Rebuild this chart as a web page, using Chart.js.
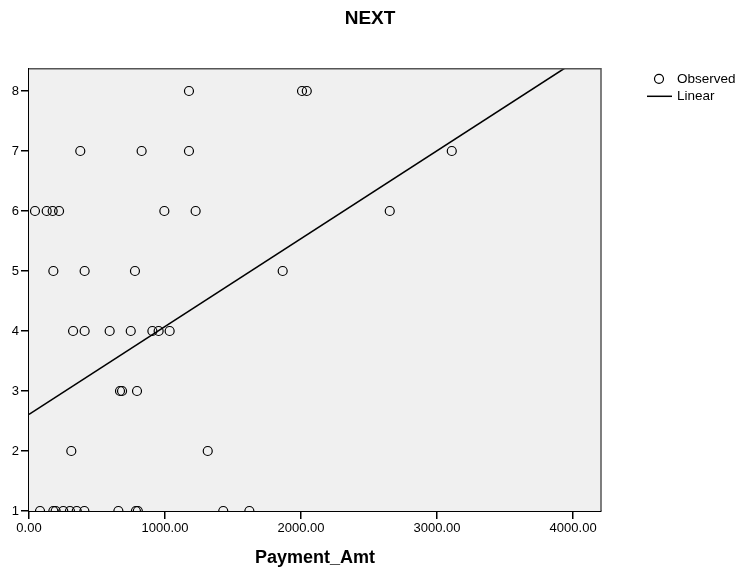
<!DOCTYPE html>
<html>
<head>
<meta charset="utf-8">
<title>NEXT</title>
<script src="https://cdn.jsdelivr.net/npm/chart.js@4.4.1/dist/chart.umd.min.js"></script>
<style>
  html, body { margin: 0; padding: 0; background: #fff; }
  #wrap { width: 740px; height: 571px; position: relative; }
</style>
</head>
<body>
<div id="wrap"><canvas id="chart"></canvas></div>
<script>
// Observed points, grouped by NEXT value
const paymentAmt = [
  1176, 2007, 2042,                          // NEXT = 8
  377, 828, 1176, 3108,                      // 7
  44, 130, 174, 221, 995, 1225, 2652,        // 6
  179, 409, 779, 1865,                       // 5
  324, 409, 593, 748, 907, 953, 1034,        // 4
  669, 684, 794,                             // 3
  311, 1314,                                 // 2
  81, 179, 196, 252, 301, 351, 407, 657, 786, 800, 1428, 1620, // 1
];
const nextValue = [
  8, 8, 8,
  7, 7, 7, 7,
  6, 6, 6, 6, 6, 6, 6,
  5, 5, 5, 5,
  4, 4, 4, 4, 4, 4, 4,
  3, 3, 3,
  2, 2,
  1, 1, 1, 1, 1, 1, 1, 1, 1, 1, 1, 1,
];

// Linear fit line
const fitIntercept = 2.61;
const fitSlope = 0.001465;

// Axes
const xMin = 0;
const xMax = 4205;
const xTicks = [0, 1000, 2000, 3000, 4000];
const yMin = 1;
const yMax = 8.37;
const yTicks = [1, 2, 3, 4, 5, 6, 7, 8];

const legendLabels = ['Observed', 'Linear'];

const FONT = '"Liberation Sans", Arial, Helvetica, sans-serif';

const observed = paymentAmt.map((x, i) => ({ x, y: nextValue[i] }));
const fitLine = [xMin, xMax].map((x) => ({ x, y: fitIntercept + fitSlope * x }));

// grey plot background + thin frame on top/right
const plotFrame = {
  id: 'plotFrame',
  beforeDatasetsDraw(chart) {
    const { ctx, chartArea: a } = chart;
    ctx.save();
    ctx.fillStyle = '#f0f0f0';
    ctx.fillRect(a.left, a.top, a.right - a.left, a.bottom - a.top);
    ctx.restore();
  },
  afterDraw(chart) {
    const { ctx, chartArea: a } = chart;
    ctx.save();
    ctx.strokeStyle = '#555';
    ctx.lineWidth = 1.5;
    ctx.beginPath();
    ctx.moveTo(a.left, a.top);
    ctx.lineTo(a.right, a.top);
    ctx.lineTo(a.right, a.bottom);
    ctx.stroke();
    ctx.restore();
  },
};

// SPSS style legend to the right of the plot
const sideLegend = {
  id: 'sideLegend',
  afterDraw(chart) {
    const { ctx, chartArea: a } = chart;
    const cx = a.right + 58;
    const tx = a.right + 76;
    const y1 = a.top + 10;
    const y2 = a.top + 27.5;
    ctx.save();
    ctx.strokeStyle = '#000';
    ctx.fillStyle = '#000';
    ctx.lineWidth = 1.2;
    ctx.beginPath();
    ctx.arc(cx, y1, 4.5, 0, Math.PI * 2);
    ctx.stroke();
    ctx.lineWidth = 1.5;
    ctx.beginPath();
    ctx.moveTo(cx - 12, y2);
    ctx.lineTo(cx + 13, y2);
    ctx.stroke();
    ctx.font = `13.5px ${FONT}`;
    ctx.textBaseline = 'middle';
    ctx.fillText(legendLabels[0], tx, y1);
    ctx.fillText(legendLabels[1], tx, y2);
    ctx.restore();
  },
};

Chart.defaults.font.family = FONT;
Chart.defaults.color = '#000';

const axisGrid = {
  drawOnChartArea: false,
  drawTicks: true,
  tickLength: 8,
  color: '#000',
  lineWidth: 1.5,
};

new Chart(document.getElementById('chart'), {
  type: 'scatter',
  data: {
    datasets: [
      {
        label: legendLabels[0],
        data: observed,
        pointStyle: 'circle',
        pointRadius: 4.5,
        pointHoverRadius: 4.5,
        borderWidth: 1.2,
        borderColor: '#000',
        backgroundColor: 'rgba(0,0,0,0)',
        clip: 0,
      },
      {
        label: legendLabels[1],
        data: fitLine,
        showLine: true,
        borderColor: '#000',
        borderWidth: 1.6,
        pointRadius: 0,
        clip: 0,
      },
    ],
  },
  options: {
    responsive: true,
    maintainAspectRatio: false,
    animation: false,
    devicePixelRatio: 1,
    layout: {
      padding: 0,
    },
    scales: {
      x: {
        type: 'linear',
        min: xMin,
        max: xMax,
        afterBuildTicks: (scale) => { scale.ticks = xTicks.map((value) => ({ value })); },
        afterFit: (scale) => { scale.height = 60; },
        grid: axisGrid,
        border: { display: true, color: '#000', width: 2 },
        ticks: {
          maxRotation: 0,
          autoSkip: false,
          padding: 2,
          font: { size: 13 },
          callback: (value) => value.toFixed(2),
        },
        title: {
          display: true,
          text: 'Payment_Amt',
          font: { size: 18, weight: 'bold' },
          padding: { top: 0, bottom: 2 },
        },
      },
      y: {
        type: 'linear',
        min: yMin,
        max: yMax,
        afterBuildTicks: (scale) => { scale.ticks = yTicks.map((value) => ({ value })); },
        afterFit: (scale) => { scale.width = 29; },
        grid: axisGrid,
        border: { display: true, color: '#000', width: 2 },
        ticks: {
          autoSkip: false,
          padding: 2,
          font: { size: 13 },
          callback: (value) => String(value),
        },
      },
      // empty box on the right that holds the legend
      legendSpace: {
        type: 'linear',
        position: 'right',
        display: true,
        afterFit: (scale) => { scale.width = 139; },
        grid: { display: false, drawTicks: false },
        border: { display: false },
        ticks: { display: false },
      },
    },
    plugins: {
      legend: { display: false },
      tooltip: { enabled: false },
      title: {
        display: true,
        text: 'NEXT',
        font: { size: 19, weight: 'bold' },
        padding: { top: 7, bottom: 39 },
      },
    },
  },
  plugins: [plotFrame, sideLegend],
});
</script>
</body>
</html>
